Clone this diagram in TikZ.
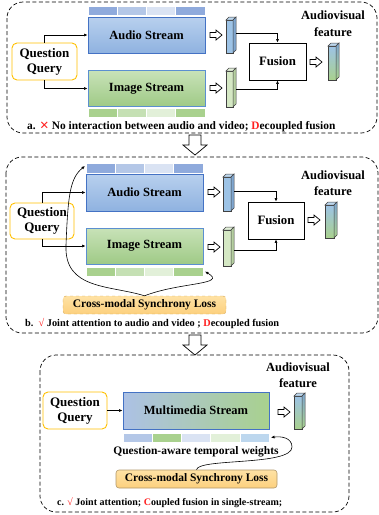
\documentclass[tikz,border=0pt]{standalone}
\usepackage{fontspec}
\setmainfont{Liberation Serif}
\newfontfamily\djv{DejaVu Sans}
\usetikzlibrary{arrows.meta,calc}
\definecolor{abA}{HTML}{8FAADC}
\definecolor{abB}{HTML}{B4C7E7}
\definecolor{abC}{HTML}{DAE3F3}
\definecolor{abD}{HTML}{BDD7EE}
\definecolor{gbA}{HTML}{A9D18E}
\definecolor{gbB}{HTML}{C5E0B4}
\definecolor{gbC}{HTML}{E2F0D9}
\definecolor{audTop}{HTML}{B8D0EE}
\definecolor{audBot}{HTML}{8FB2E0}
\definecolor{imgTop}{HTML}{C8E2B8}
\definecolor{imgBot}{HTML}{9FCA86}
\definecolor{blueEdge}{HTML}{4472C4}
\definecolor{lblueEdge}{HTML}{5B8FD0}
\definecolor{qqEdge}{HTML}{FFC000}
\definecolor{lossTop}{HTML}{FFE2A4}
\definecolor{lossBot}{HTML}{FCD07E}
\definecolor{lossEdge}{HTML}{D6A54E}
\definecolor{lossEdgeC}{HTML}{B0976A}
\definecolor{cubeEdge}{HTML}{404040}
\definecolor{cubeBlue}{HTML}{9DC3E6}
\definecolor{cubeBlueD}{HTML}{7FA6CF}
\definecolor{cubeGreen}{HTML}{D5E8C4}
\definecolor{cubeGreenD}{HTML}{B5CFA0}
\definecolor{outGreen}{HTML}{A9D18E}
\definecolor{capRed}{HTML}{FF2020}
\newcommand\fcube[7]{%
 \path[#5,draw=cubeEdge,line width=0.5] (#1,#2) rectangle (#3,#4);
 \path[fill=#6,draw=cubeEdge,line width=0.5] (#1,#2) -- (#1+3,#2-3) -- (#3+3,#2-3) -- (#3,#2) -- cycle;
 \path[#7,draw=cubeEdge,line width=0.5] (#3,#2) -- (#3+3,#2-3) -- (#3+3,#4-3) -- (#3,#4) -- cycle;
}
\newcommand\hra[2]{\draw[hollow] (#1,#2-2.5) -- ++(6,0) -- ++(0,-2.5) -- ++(6,5) -- ++(-6,5) -- ++(0,-2.5) -- ++(-6,0) -- cycle;}
\newcommand\bigdown[3]{\draw[hollow] (#1-6,#2) -- (#1+6,#2) -- (#1+6,#3-10) -- (#1+12,#3-10) -- (#1,#3) -- (#1-12,#3-10) -- (#1-6,#3-10) -- cycle;}
\begin{document}
\begin{tikzpicture}[x=1pt,y=-1pt,
 panel/.style={draw=black,dash pattern=on 4pt off 2.5pt,line width=0.7,rounded corners=16},
 streambox/.style={line width=0.9,minimum width=117,minimum height=36,inner sep=0,font=\bfseries\fontsize{12.5}{14}\selectfont},
 audiobox/.style={streambox,draw=blueEdge,top color=audTop,bottom color=audBot},
 imagebox/.style={streambox,draw=lblueEdge,top color=imgTop,bottom color=imgBot},
 qq/.style={draw=qqEdge,line width=0.9,fill=white,rounded corners=5,minimum width=65,minimum height=37,inner sep=0,align=center,font=\bfseries\fontsize{13}{15}\selectfont},
 fusionbox/.style={draw=black,line width=0.8,fill=white,minimum width=57,minimum height=37,inner sep=0,font=\bfseries\fontsize{12.8}{14}\selectfont},
 lossbox/.style={top color=lossTop,bottom color=lossBot,rounded corners=3,minimum height=18,inner sep=0,font=\bfseries\fontsize{11.5}{13}\selectfont},
 avtext/.style={align=center,font=\bfseries\fontsize{12.5}{16.5}\selectfont,inner sep=0},
 caption/.style={anchor=west,inner sep=0,font=\bfseries\fontsize{10.5}{12}\selectfont},
 conn/.style={line width=0.6,-{Latex[length=3.5,width=3]}},
 curv/.style={line width=0.6,-{Latex[length=3.5,width=3]}},
 seg/.style={draw=white,line width=0.6},
 hollow/.style={draw=black,line width=0.7,fill=white,line join=miter},
]
\useasboundingbox (0,0) rectangle (379,515);

% ================= Panel a =================
\draw[panel] (7,2) rectangle (377,133);
\foreach \xa/\xb/\c in {88/117.25/abA,117.25/146.5/abB,146.5/175.75/abC,175.75/205/abA}
  \path[seg,fill=\c] (\xa,6) rectangle (\xb,15);
\foreach \xa/\xb/\c in {88/117.25/gbA,117.25/146.5/gbB,146.5/175.75/gbC,175.75/205/gbA}
  \path[seg,fill=\c] (\xa,108) rectangle (\xb,117);
\node[audiobox] (audA) at (146.5,35) {Audio Stream};
\node[imagebox] (imgA) at (146.5,88.5) {Image Stream};
\node[qq] (qqA) at (44.5,61.5) {Question\\Query};
\draw[conn] (qqA.north) |- (audA.west);
\draw[conn] (qqA.south) |- (imgA.west);
\hra{210}{35}
\hra{210}{88}
\fcube{226}{20}{233}{53}{fill=cubeBlue}{abD}{fill=cubeBlueD}
\fcube{226}{71}{233}{107}{fill=cubeGreen}{gbC}{fill=cubeGreenD}
\node[fusionbox] (fusA) at (277.5,61.5) {Fusion};
\coordinate (caA) at (236,33);
\coordinate (ciA) at (236,89);
\draw[conn] (caA) -| (fusA.north);
\draw[conn] (ciA) -| (fusA.south);
\hra{310}{62}
\fcube{328}{46}{336}{80}{top color=cubeBlue,bottom color=outGreen}{abD}{top color=cubeBlueD,bottom color=gbA}
\node[avtext] (avA) at (333,23.5) {Audiovisual\\feature};
\node[caption,font=\bfseries\fontsize{11.4}{13}\selectfont] (capA) at (27,127) {a. {\djv\color{capRed}\mdseries ✕} No interaction between audio and video; {\color{capRed}D}ecoupled fusion};

\bigdown{195}{135}{155}

% ================= Panel b =================
\draw[panel] (6,157) rectangle (378,333);
\foreach \xa/\xb/\c in {86/115.25/abA,115.25/144.5/abB,144.5/173.75/abC,173.75/203/abA}
  \path[seg,fill=\c] (\xa,163) rectangle (\xb,173);
\foreach \xa/\xb/\c in {86/115.25/gbA,115.25/144.5/gbB,144.5/173.75/gbC,173.75/203/gbA}
  \path[seg,fill=\c] (\xa,267) rectangle (\xb,276);
\node[audiobox,minimum height=37] (audB) at (144.5,192.5) {Audio Stream};
\node[imagebox] (imgB) at (144.5,246) {Image Stream};
\node[qq,minimum width=64,minimum height=36] (qqB) at (42,221) {Question\\Query};
\draw[conn] (qqB.north) |- (audB.west);
\draw[conn] (qqB.south) |- (imgB.west);
\hra{208}{192}
\hra{208}{247}
\fcube{223}{177}{231}{211}{fill=cubeBlue}{abD}{fill=cubeBlueD}
\fcube{223}{230}{231}{266}{fill=cubeGreen}{gbC}{fill=cubeGreenD}
\node[fusionbox,minimum width=56] (fusB) at (276,220.5) {Fusion};
\coordinate (caB) at (234,191);
\coordinate (ciB) at (234,250);
\draw[conn] (caB) -| (fusB.north);
\draw[conn] (ciB) -| (fusB.south);
\hra{308}{220}
\fcube{325}{205}{334}{238}{top color=cubeBlue,bottom color=outGreen}{abD}{top color=cubeBlueD,bottom color=gbA}
\node[avtext] (avB) at (333,183) {Audiovisual\\feature};
\node[lossbox,draw=lossEdge,dashed,minimum width=163] (lossB) at (144.5,305) {Cross-modal Synchrony Loss};
\coordinate (barTopB) at (85,166);
\coordinate (barBotB) at (205,271.5);
\draw[curv] (lossB.north) .. controls (110,285) and (64,290) .. (66,245) .. controls (68,195) and (70,178) .. (barTopB);
\draw[curv] (lossB.north) .. controls (180,282) and (228,285) .. (barBotB);
\node[caption,font=\bfseries\fontsize{10.3}{12}\selectfont] (capB) at (25,324) {b.\ \ {\color{capRed}\mdseries √} Joint attention to audio and video ; {\color{capRed}D}ecoupled fusion};

\bigdown{195}{335}{355}

% ================= Panel c =================
\draw[panel] (40,355) rectangle (349,512);
\node[qq,minimum width=64] (qqC) at (75,410.5) {Question\\Query};
\node[streambox,draw=blueEdge,left color=abB!80!abA,right color=gbA,minimum width=146,minimum height=37] (mmC) at (196,410.5) {Multimedia Stream};
\draw[conn] (qqC.east) -- (mmC.west);
\foreach \xa/\xb/\c in {123/152.2/abB,152.2/181.4/gbA,181.4/210.6/abC,210.6/239.8/gbC,239.8/269/abD}
  \path[seg,fill=\c] (\xa,433) rectangle (\xb,442);
\node[inner sep=0,font=\bfseries\fontsize{11.5}{13}\selectfont] (qaw) at (196,451.5) {Question-aware temporal weights};
\node[lossbox,draw=lossEdgeC,line width=0.6,minimum width=161] (lossC) at (196.5,479) {Cross-modal Synchrony Loss};
\coordinate (barC) at (271,437.5);
\draw[curv] (lossC.north) .. controls (198,458) and (292,466) .. (292,447) .. controls (292,438) and (282,436) .. (barC);
\hra{278}{412}
\fcube{294}{396}{302}{429}{top color=cubeBlue,bottom color=outGreen}{abD}{top color=cubeBlueD,bottom color=gbA}
\node[avtext] (avC) at (298,375) {Audiovisual\\feature};
\node[caption,font=\bfseries\fontsize{10}{12}\selectfont] (capC) at (57,503) {c. {\color{capRed}\mdseries √} Joint attention; {\color{capRed}C}oupled fusion in single-stream;};
\end{tikzpicture}
\end{document}
